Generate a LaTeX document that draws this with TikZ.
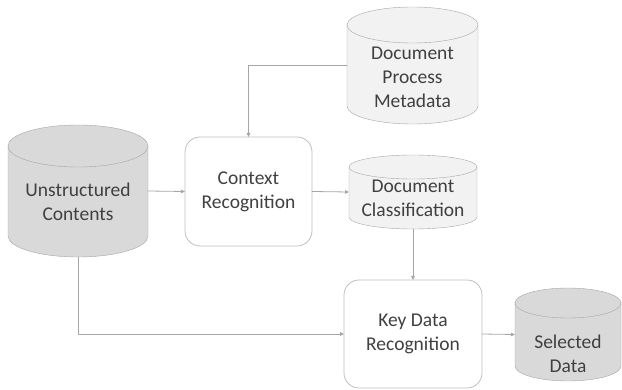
\documentclass[tikz,border=0pt]{standalone}
\usepackage{fontspec}
\setmainfont{Carlito}
\usetikzlibrary{arrows.meta,backgrounds}
\definecolor{txtgray}{HTML}{404040}
\definecolor{linegray}{HTML}{A6A6A6}
\definecolor{edgegray}{HTML}{BFBFBF}
\definecolor{darkfill}{HTML}{D9D9D9}
\definecolor{lightfill}{HTML}{F2F2F2}
\tikzset{
  dbbox/.style={rectangle, inner sep=2pt, outer sep=0pt, text=txtgray, align=center,
    text depth=0pt, font=\fontsize{19.5}{24}\selectfont},
  proc/.style={rectangle, rounded corners=15pt, draw=edgegray, fill=white, outer sep=0pt,
    text=txtgray, align=center, font=\fontsize{19.5}{24}\selectfont},
  conn/.style={draw=linegray, -{Triangle[length=4pt,width=3.5pt]}},
  every picture/.style={line cap=round, line join=round, line width=0.8pt}
}
% cylinder round a dbbox node: name, x radius, y radius, fill
\newcommand{\dbshape}[4]{%
  \filldraw[draw=linegray, fill=#4] ([yshift=-#3pt]#1.north west) -- ([yshift=#3pt]#1.south west)
    arc[start angle=180, end angle=360, x radius=#2pt, y radius=#3pt]
    -- ([yshift=-#3pt]#1.north east) -- cycle;
  \filldraw[draw=linegray, fill=#4] ([yshift=-#3pt]#1.north) ellipse[x radius=#2pt, y radius=#3pt];
}
\begin{document}
\begin{tikzpicture}[x=1pt,y=-1pt]
    \useasboundingbox (0,0) rectangle (622,390);

    \node[dbbox, minimum width=140pt, minimum height=132pt, text height=60pt] (uc) at (78,191) {Unstructured\\Contents};
    \node[proc, minimum width=127pt, minimum height=109pt] (ctx) at (248.5,191.5) {Context\\Recognition};
    \node[dbbox, minimum width=131pt, minimum height=117pt, text height=84pt] (meta) at (412.5,65.5) {Document\\Process\\Metadata};
    \node[dbbox, minimum width=128pt, minimum height=74pt, text height=49pt] (cls) at (413,192) {Document\\Classification};
    \node[proc, minimum width=138pt, minimum height=108pt] (kdr) at (413,334) {Key Data\\Recognition};
    \node[dbbox, minimum width=106pt, minimum height=93pt, text height=76pt] (sel) at (568,334.5) {Selected\\Data};

    \begin{scope}[on background layer]
      \dbshape{uc}{70}{21}{darkfill}
      \dbshape{meta}{65.5}{18}{lightfill}
      \dbshape{cls}{64}{12}{lightfill}
      \dbshape{sel}{53}{15}{darkfill}
    \end{scope}

    \draw[conn] (uc.east) -- (ctx.west);
    \draw[conn] (meta.west) -| (ctx.north);
    \draw[conn] (ctx.east) -- (cls.west);
    \draw[conn] (cls.south) -- (kdr.north);
    \draw[conn] (uc.south) |- (kdr.west);
    \draw[conn] (kdr.east) -- (sel.west);
\end{tikzpicture}
\end{document}
